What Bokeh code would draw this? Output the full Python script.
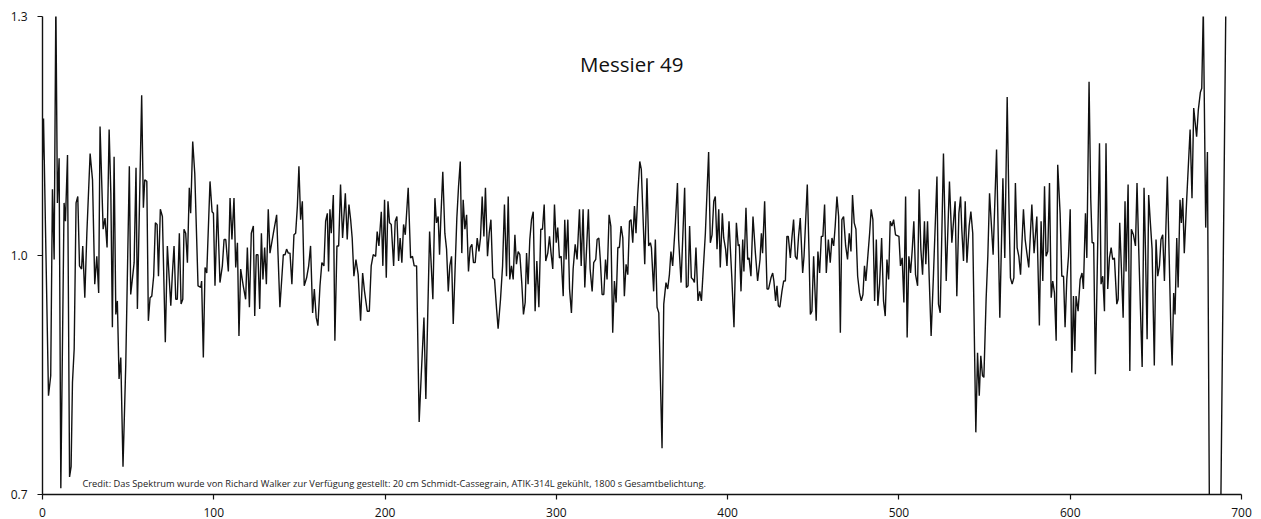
from bokeh.plotting import figure
from bokeh.models import Range1d, FixedTicker, Label
from bokeh.embed import file_html
from bokeh.resources import INLINE

# ---- data ----
pixel = [
    0, 0.6, 3.5, 4.8, 5.8, 6.8, 7.8, 8.7, 9.7, 10.7, 12.6, 13.4, 14.6, 15.8, 16.7, 17.5, 18.5, 19.6, 20.6, 21.6,
    22.8, 23.5, 24.7, 25.9, 27.8, 29.2, 30.5, 31.7, 32.8, 33.6, 35.4, 36.5, 37.7, 38.9, 39.9, 40.8, 41.8, 42.8, 43.7, 44.7,
    45.7, 47.0, 48.6, 50.7, 51.5, 53.5, 54.6, 55.4, 57.9, 58.9, 59.7, 60.9, 61.8, 62.8, 63.8, 64.9, 65.9, 66.9, 67.7, 68.8,
    70.0, 71.7, 72.9, 74.9, 75.8, 76.8, 77.8, 78.7, 79.9, 80.9, 81.9, 82.6, 83.6, 84.6, 85.7, 86.5, 87.7, 88.9, 90.8, 92.4,
    92.9, 93.9, 94.9, 95.9, 97.8, 99.0, 99.8, 100.7, 102.1, 103.6, 105.0, 106.0, 107.0, 108.5, 109.5, 110.6, 111.8, 112.8, 113.8, 114.7,
    115.7, 117.2, 118.6, 119.6, 120.8, 121.9, 123.1, 123.9, 124.8, 125.8, 126.8, 127.8, 128.7, 129.7, 130.7, 131.8, 132.8, 134.8, 136.7, 138.6,
    140.6, 141.6, 142.5, 143.5, 144.5, 145.6, 146.8, 147.8, 148.8, 149.7, 150.7, 151.7, 152.8, 154.2, 155.4, 156.5, 157.7, 158.7, 159.8, 160.8,
    162.0, 163.1, 164.3, 165.3, 166.3, 167.0, 167.8, 168.6, 169.8, 170.7, 171.9, 172.9, 174.0, 175.2, 176.8, 177.9, 178.9, 179.9, 180.8, 181.8,
    183.0, 184.3, 185.7, 186.9, 188.0, 189.6, 190.8, 191.9, 193.1, 194.5, 195.4, 196.4, 197.8, 198.7, 199.7, 200.7, 201.7, 202.6, 203.6, 205.0,
    205.9, 206.9, 207.9, 208.8, 209.8, 210.8, 211.8, 213.5, 214.9, 216.0, 217.0, 218.4, 219.9, 221.1, 222.7, 223.8, 226.0, 227.9, 229.1, 230.0,
    231.0, 231.8, 232.6, 233.7, 234.9, 235.9, 236.9, 237.8, 238.8, 239.8, 240.8, 241.9, 242.9, 243.9, 244.8, 245.6, 246.6, 247.6, 248.7, 249.7,
    250.7, 251.6, 252.6, 253.8, 254.8, 255.7, 256.7, 257.7, 258.6, 259.8, 260.8, 261.8, 262.9, 263.9, 265.1, 266.0, 267.4, 268.6, 269.7, 270.9,
    271.9, 272.8, 273.8, 274.8, 275.8, 276.7, 277.7, 278.7, 279.8, 280.8, 281.8, 282.6, 283.5, 284.5, 285.5, 286.5, 287.6, 288.6, 289.8, 290.9,
    291.9, 292.9, 293.8, 295.0, 296.0, 296.9, 297.9, 298.9, 299.9, 300.8, 301.8, 302.8, 304.0, 304.9, 305.7, 306.7, 307.7, 308.8, 309.8, 311.0,
    312.1, 313.5, 314.5, 315.6, 316.6, 317.8, 318.7, 319.7, 320.9, 321.8, 323.0, 323.8, 324.8, 325.7, 326.7, 327.7, 328.7, 329.6, 330.8, 331.8,
    332.9, 333.9, 334.9, 335.9, 336.8, 337.8, 338.8, 339.7, 340.7, 341.7, 342.7, 343.6, 344.6, 345.6, 346.5, 347.5, 348.7, 349.6, 351.6, 352.9,
    353.9, 354.9, 355.5, 356.8, 357.8, 358.8, 359.8, 361.7, 362.7, 364.0, 365.0, 366.0, 366.9, 367.9, 369.5, 370.7, 371.4, 372.8, 374.9, 375.9,
    376.9, 377.8, 378.8, 379.8, 380.6, 381.5, 382.7, 383.7, 384.7, 387.0, 388.9, 389.9, 390.9, 391.9, 392.8, 393.8, 394.8, 395.7, 396.9, 397.7,
    398.8, 399.6, 400.8, 401.6, 402.4, 403.7, 405.1, 406.2, 406.8, 407.8, 408.8, 409.5, 410.7, 411.7, 412.5, 413.6, 414.8, 416.2, 417.5, 418.9,
    419.7, 420.4, 421.6, 423.0, 423.9, 425.3, 426.3, 427.0, 428.0, 428.8, 429.6, 430.5, 431.7, 432.7, 433.7, 434.6, 435.4, 436.6, 437.6, 438.5,
    439.5, 440.5, 441.4, 442.4, 443.8, 444.6, 446.5, 447.5, 448.3, 449.2, 450.2, 451.0, 451.7, 452.7, 453.7, 454.7, 455.6, 456.6, 457.6, 458.8,
    459.9, 460.9, 461.9, 462.8, 463.8, 464.8, 465.8, 466.7, 467.7, 468.9, 470.0, 471.0, 472.0, 472.9, 473.9, 474.9, 475.9, 477.0, 478.0, 479.0,
    479.9, 480.7, 481.7, 482.9, 483.8, 484.8, 485.8, 486.8, 487.7, 488.7, 489.9, 491.0, 492.0, 493.0, 494.0, 494.9, 495.9, 496.9, 498.0, 500.0,
    500.9, 501.9, 502.9, 503.9, 504.8, 505.8, 506.8, 507.8, 508.7, 509.7, 510.9, 511.8, 512.8, 513.8, 514.9, 515.7, 516.7, 517.7, 518.8, 520.2,
    522.2, 523.1, 524.1, 526.0, 527.6, 529.5, 530.9, 532.8, 533.8, 535.0, 536.0, 536.7, 537.7, 538.7, 539.7, 541.0, 542.0, 543.1, 544.9, 545.9,
    546.9, 547.8, 548.8, 549.6, 550.9, 551.9, 552.9, 555.0, 557.0, 558.9, 560.7, 561.8, 563.2, 564.2, 565.1, 566.1, 567.1, 568.0, 569.0, 570.0,
    571.0, 572.7, 573.7, 574.7, 575.8, 577.6, 578.9, 580.5, 582.0, 583.0, 584.0, 585.0, 585.9, 586.9, 587.9, 588.9, 589.8, 590.8, 591.8, 592.7,
    594.1, 595.1, 596.1, 597.0, 598.0, 599.0, 600.0, 600.9, 601.9, 602.7, 603.4, 604.6, 605.8, 606.9, 607.7, 608.9, 609.7, 611.0, 612.0, 612.8,
    613.7, 614.7, 617.1, 618.0, 619.0, 620.0, 620.9, 621.9, 622.9, 623.9, 624.8, 625.8, 627.2, 628.0, 628.9, 629.9, 630.9, 632.0, 632.6, 633.8,
    634.8, 635.7, 636.9, 638.1, 639.0, 640.0, 641.0, 642.0, 643.1, 643.9, 644.9, 645.8, 646.8, 647.8, 649.1, 650.1, 651.1, 652.1, 653.0, 654.0,
    655.0, 656.7, 658.7, 659.5, 660.4, 661.2, 662.2, 663.0, 664.1, 664.9, 665.7, 666.6, 668.0, 670.0, 671.1, 672.1, 673.8, 674.8, 676.0, 676.8,
    677.7, 679.1, 680.1, 682.0, 687.3, 692.0,
]

intensity = [
    1.120, 1.172, 0.824, 0.849, 1.083, 0.995, 1.320, 1.066, 1.122, 0.708, 1.066, 1.043, 1.126, 0.722, 0.735, 0.841, 0.883, 1.066, 1.074, 0.987,
    0.983, 1.012, 0.947, 1.028, 1.128, 1.095, 0.964, 0.999, 0.953, 1.162, 1.033, 1.047, 1.010, 1.158, 1.078, 0.910, 1.124, 0.926, 0.943, 0.845,
    0.872, 0.735, 0.862, 1.112, 0.951, 0.991, 1.110, 0.933, 1.201, 1.060, 1.095, 1.093, 0.918, 0.947, 0.949, 0.974, 1.041, 1.039, 0.974, 1.058,
    1.049, 0.891, 1.012, 0.937, 0.976, 1.012, 0.945, 0.945, 1.028, 0.939, 0.945, 1.033, 1.028, 0.991, 1.085, 1.053, 1.143, 1.103, 0.962, 0.960,
    0.968, 0.872, 0.985, 0.978, 1.093, 1.055, 1.053, 0.962, 1.064, 0.966, 0.987, 1.020, 1.020, 0.980, 1.072, 1.020, 1.072, 0.985, 1.016, 0.899,
    0.983, 0.962, 0.945, 1.010, 0.935, 1.028, 1.037, 0.924, 1.001, 1.001, 0.933, 1.028, 0.970, 1.010, 0.964, 1.058, 1.003, 1.028, 1.051, 0.935,
    1.001, 1.001, 1.008, 1.003, 1.003, 0.964, 1.026, 1.028, 1.062, 1.112, 1.045, 1.068, 0.962, 0.972, 0.987, 1.012, 0.928, 0.958, 0.922, 0.912,
    0.962, 0.991, 0.987, 1.043, 1.053, 0.980, 1.058, 1.028, 1.076, 0.893, 1.012, 1.012, 1.089, 1.022, 1.078, 1.020, 1.064, 1.045, 1.022, 0.974,
    0.995, 0.976, 0.918, 0.978, 0.955, 0.930, 0.930, 0.987, 1.001, 0.999, 1.030, 1.012, 1.055, 0.987, 1.070, 0.972, 1.068, 1.041, 1.039, 0.987,
    1.043, 1.049, 0.993, 1.022, 0.991, 1.039, 1.026, 1.085, 0.997, 0.999, 0.987, 0.987, 0.791, 0.849, 0.922, 0.820, 1.030, 0.945, 1.072, 1.041,
    1.049, 1.001, 1.049, 1.105, 1.028, 1.008, 0.955, 0.987, 0.999, 0.914, 0.978, 1.047, 1.087, 1.118, 1.003, 1.070, 1.033, 1.051, 0.980, 1.010,
    1.014, 0.991, 0.991, 1.022, 1.005, 1.022, 1.074, 1.024, 1.085, 0.999, 1.028, 1.045, 0.972, 0.970, 0.933, 0.908, 0.945, 0.987, 1.064, 0.974,
    1.074, 0.970, 0.987, 0.970, 1.026, 0.989, 1.005, 1.001, 0.966, 0.926, 0.941, 1.003, 0.964, 1.020, 1.045, 1.055, 0.930, 0.993, 0.935, 1.033,
    1.033, 1.064, 0.993, 1.003, 1.024, 1.003, 0.983, 1.064, 1.016, 1.035, 0.997, 0.999, 0.949, 1.045, 0.995, 1.045, 0.958, 0.928, 0.983, 1.014,
    0.995, 1.058, 0.987, 1.058, 0.960, 1.016, 1.058, 0.983, 0.955, 0.991, 0.995, 1.020, 1.022, 0.993, 0.951, 0.951, 0.995, 0.970, 1.051, 1.037,
    0.903, 0.968, 0.941, 1.010, 1.010, 1.037, 1.022, 0.949, 0.989, 0.976, 1.043, 1.045, 1.016, 1.062, 1.028, 1.076, 1.118, 1.108, 0.989, 1.097,
    1.012, 1.016, 1.010, 0.955, 1.020, 0.935, 0.928, 0.758, 0.939, 0.966, 0.958, 0.976, 1.005, 0.987, 1.041, 1.091, 1.020, 0.966, 1.085, 0.960,
    0.962, 1.037, 0.972, 0.970, 0.966, 1.010, 0.943, 0.955, 0.943, 1.028, 1.130, 1.016, 1.026, 1.068, 1.074, 1.008, 1.058, 0.985, 1.053, 1.022,
    1.008, 0.987, 1.043, 1.008, 0.974, 0.910, 1.041, 1.012, 1.014, 0.955, 1.020, 0.980, 1.060, 0.995, 0.997, 0.974, 1.049, 1.003, 0.968, 0.995,
    1.028, 1.003, 1.068, 0.958, 0.958, 0.972, 0.978, 0.968, 0.943, 0.962, 0.937, 0.935, 0.955, 0.968, 0.968, 1.024, 1.024, 0.997, 1.024, 1.045,
    0.999, 0.995, 1.024, 1.047, 0.978, 0.999, 1.089, 1.005, 0.926, 0.930, 0.999, 0.955, 0.918, 1.005, 0.978, 1.024, 1.024, 1.064, 0.978, 1.020,
    0.991, 1.022, 1.012, 1.037, 1.074, 1.049, 0.903, 1.045, 1.049, 1.012, 0.995, 1.028, 1.005, 1.076, 1.041, 1.033, 0.974, 0.953, 0.943, 0.951,
    0.987, 0.968, 0.995, 1.028, 1.058, 1.045, 0.943, 1.020, 0.937, 0.964, 1.022, 0.943, 0.924, 0.995, 0.970, 1.043, 1.037, 1.045, 1.026, 1.024,
    0.987, 0.997, 0.941, 1.074, 0.897, 0.999, 0.978, 1.008, 1.043, 0.976, 0.962, 1.083, 1.008, 0.976, 1.043, 0.989, 1.043, 0.970, 0.899, 0.978,
    1.099, 0.939, 0.928, 1.128, 0.968, 1.093, 1.016, 1.068, 0.949, 1.053, 1.074, 1.033, 0.993, 1.068, 0.991, 1.037, 1.055, 1.028, 0.778, 0.878,
    0.824, 0.874, 0.849, 0.847, 0.945, 0.999, 1.078, 1.001, 1.133, 0.922, 1.097, 0.997, 1.199, 1.066, 0.972, 0.964, 0.972, 1.091, 1.010, 0.999,
    0.976, 1.058, 1.020, 1.003, 0.985, 1.064, 1.003, 1.049, 0.912, 1.043, 0.968, 1.087, 0.999, 1.005, 1.091, 0.947, 0.968, 0.953, 0.893, 1.114,
    1.053, 0.974, 0.974, 0.910, 0.970, 0.999, 1.058, 0.853, 0.949, 0.880, 0.949, 0.930, 0.970, 0.978, 0.958, 1.053, 0.997, 1.218, 1.070, 1.016,
    1.016, 0.851, 1.141, 0.964, 0.974, 0.930, 1.141, 0.958, 0.997, 1.010, 0.995, 0.997, 0.939, 0.945, 1.041, 0.983, 0.922, 1.068, 0.980, 1.089,
    0.855, 1.033, 1.026, 1.012, 1.091, 1.008, 0.933, 0.860, 1.085, 1.010, 0.895, 1.076, 1.041, 1.008, 0.862, 1.020, 0.974, 0.987, 1.020, 1.026,
    0.968, 1.099, 0.912, 0.862, 0.953, 0.926, 1.022, 0.960, 1.070, 1.041, 1.072, 1.003, 1.070, 1.158, 1.072, 1.185, 1.149, 1.183, 1.205, 1.210,
    1.310, 1.035, 1.130, 0.390, 0.550, 1.560,
]

x_ticks = [0, 100, 200, 300, 400, 500, 600, 700]
x_tick_labels = ["0", "100", "200", "300", "400", "500", "600", "700"]
y_ticks = [0.7, 1.0, 1.3]
y_tick_labels = ["0.7", "1.0", "1.3"]

title_text = "Messier 49"
credit_text = ("Credit: Das Spektrum wurde von Richard Walker zur Verfügung gestellt: "
               "20 cm Schmidt-Cassegrain, ATIK-314L gekühlt, 1800 s Gesamtbelichtung.")

FONT = "Open Sans"

p = figure(width=1261, height=519, output_backend="svg", toolbar_location=None,
           x_range=Range1d(0, 700), y_range=Range1d(0.7, 1.3),
           min_border_left=42, min_border_right=20, min_border_top=16, min_border_bottom=0)
p.outline_line_color = None
p.background_fill_color = "white"
p.border_fill_color = "white"
p.xgrid.visible = False
p.ygrid.visible = False

p.line(pixel, intensity, line_color="#111111", line_width=1.4)

for ax in (p.xaxis[0], p.yaxis[0]):
    ax.axis_line_color = "#111111"
    ax.axis_line_width = 1.4
    ax.major_tick_line_color = "#111111"
    ax.major_tick_line_width = 1.2
    ax.major_tick_out = 5
    ax.major_tick_in = 0
    ax.minor_tick_line_color = None
    ax.major_label_text_font = FONT
    ax.major_label_text_font_size = "12px"
    ax.major_label_text_color = "#111111"

p.xaxis[0].ticker = FixedTicker(ticks=x_ticks)
p.xaxis[0].major_label_overrides = dict(zip(x_ticks, x_tick_labels))
p.xaxis[0].major_label_standoff = 8
p.yaxis[0].ticker = FixedTicker(ticks=y_ticks)
p.yaxis[0].major_label_overrides = dict(zip(y_ticks, y_tick_labels))
p.yaxis[0].major_label_standoff = 10

p.add_layout(Label(x=344, y=1.241, text=title_text, text_font=FONT, text_font_size="20.5px",
                   text_align="center", text_baseline="middle", text_color="#111111"))
p.add_layout(Label(x=23.3, y=0.7135, text=credit_text, text_font=FONT, text_font_size="9.3px",
                   text_align="left", text_baseline="middle", text_color="#222222"))

open("out.html", "w").write(file_html(p, INLINE))
